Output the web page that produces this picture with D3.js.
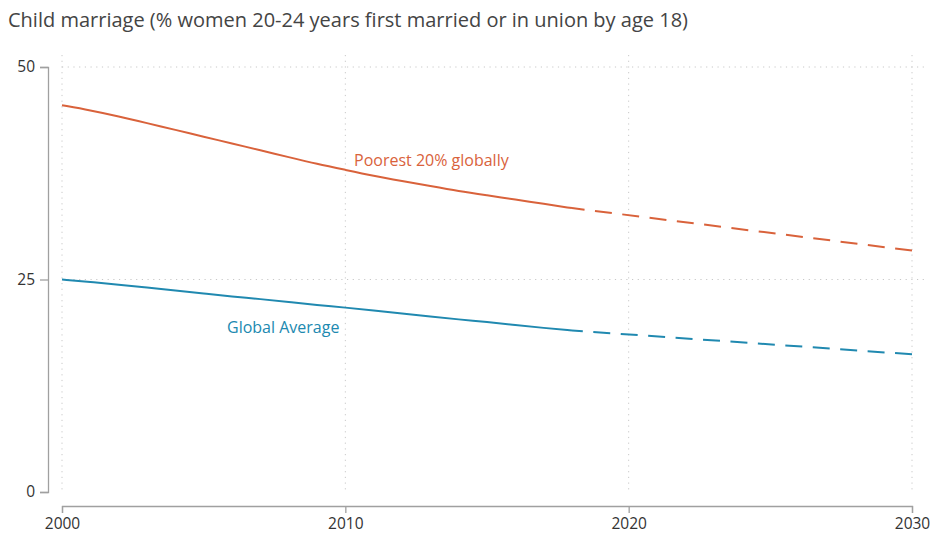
<!DOCTYPE html>
<html>
<head>
<meta charset="utf-8">
<script src="https://cdn.jsdelivr.net/npm/d3@7"></script>
<style>
  body { margin: 0; background: #fff; }
  text { font-family: "Open Sans", "Noto Sans", sans-serif; }
</style>
</head>
<body>
<div id="chart"></div>
<script>
// data
const years = [2000, 2001, 2002, 2003, 2004, 2005, 2006, 2007, 2008, 2009,
  2010, 2011, 2012, 2013, 2014, 2015, 2016, 2017, 2018];
const poorest = [45.5, 44.9, 44.2, 43.4, 42.6, 41.8, 41.0, 40.2, 39.4, 38.6,
  37.9, 37.2, 36.6, 36.0, 35.4, 34.9, 34.4, 33.9, 33.4];
const globalAvg = [25.0, 24.7, 24.4, 24.05, 23.7, 23.35, 23.0, 22.7, 22.35, 22.0,
  21.7, 21.35, 21.0, 20.65, 20.3, 20.0, 19.65, 19.3, 19.0];
const projYears = [2018, 2030];
const poorestProj = [33.4, 28.4];
const globalProj = [19.0, 16.2];
const xTicks = [2000, 2010, 2020, 2030];
const yTicks = [0, 25, 50];

const width = 934;
const height = 536;
const orange = '#d9623b';
const blue = '#2089b0';

const svg = d3.select('#chart').append('svg')
  .attr('width', width)
  .attr('height', height);

const x = d3.scaleLinear().domain([2000, 2030]).range([62, 912]);
const y = d3.scaleLinear().domain([0, 50]).range([492, 67]);

// title
svg.append('text')
  .attr('x', 8)
  .attr('y', 27)
  .attr('fill', '#444')
  .attr('font-size', 20)
  .attr('textLength', 680)
  .text('Child marriage (% women 20-24 years first married or in union by age 18)');

// grid lines
const grid = svg.append('g').attr('stroke', '#c8c8c8').attr('stroke-dasharray', '1.2,4.5');
grid.selectAll('.vg').data(xTicks).enter().append('line')
  .attr('x1', d => x(d)).attr('x2', d => x(d))
  .attr('y1', 55).attr('y2', y(0));
grid.selectAll('.hg').data(yTicks.filter(d => d > 0)).enter().append('line')
  .attr('x1', x(2000)).attr('x2', 928)
  .attr('y1', d => y(d)).attr('y2', d => y(d));

// axes
const yAxis = svg.append('g')
  .attr('transform', 'translate(48,0)')
  .call(d3.axisLeft(y).tickValues(yTicks).tickSize(8).tickPadding(5));
const xAxis = svg.append('g')
  .attr('transform', 'translate(0,506)')
  .call(d3.axisBottom(x).tickValues(xTicks).tickFormat(d3.format('d')).tickSize(7).tickPadding(5));

[yAxis, xAxis].forEach(a => {
  a.select('.domain').attr('stroke', '#a0a0a0').attr('stroke-width', 1.3);
  a.selectAll('.tick line').attr('stroke', '#a0a0a0').attr('stroke-width', 1.3);
  a.selectAll('.tick text').attr('fill', '#333').attr('font-size', 15.5)
    .style('font-family', '"Open Sans", sans-serif');
});

// lines
const line = d3.line().x(d => x(d[0])).y(d => y(d[1])).curve(d3.curveBasis);

function drawSeries(vals, proj, color) {
  svg.append('path')
    .datum(years.map((yr, i) => [yr, vals[i]]))
    .attr('fill', 'none').attr('stroke', color).attr('stroke-width', 2)
    .attr('d', line);
  // projection drawn from 2030 backwards so a dash lands on the end
  svg.append('path')
    .datum(projYears.map((yr, i) => [yr, proj[i]]).reverse())
    .attr('fill', 'none').attr('stroke', color).attr('stroke-width', 2)
    .attr('stroke-dasharray', '17,10.5')
    .attr('d', line);
}
drawSeries(poorest, poorestProj, orange);
drawSeries(globalAvg, globalProj, blue);

// labels
svg.append('text')
  .attr('x', 354).attr('y', 166)
  .attr('fill', orange).attr('font-size', 16)
  .text('Poorest 20% globally');
svg.append('text')
  .attr('x', 227).attr('y', 333)
  .attr('fill', blue).attr('font-size', 16)
  .text('Global Average');
</script>
</body>
</html>
